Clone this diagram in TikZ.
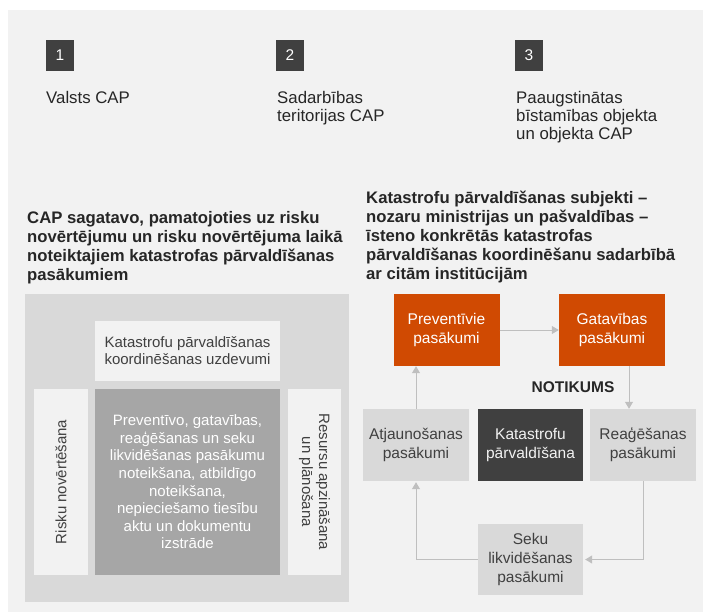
\documentclass[tikz,border=0pt]{standalone}
\usepackage{fontspec}
\setmainfont{Liberation Sans}
\usetikzlibrary{arrows.meta}

\definecolor{panelgrey}{HTML}{F2F2F2}
\definecolor{midgrey}{HTML}{D9D9D9}
\definecolor{boxgrey}{HTML}{A6A6A6}
\definecolor{darkgrey}{HTML}{404040}
\definecolor{inkgrey}{HTML}{262626}
\definecolor{pwcorange}{HTML}{D04A02}
\definecolor{arrowgrey}{HTML}{BFBFBF}

\begin{document}
\begin{tikzpicture}[x=1pt, y=-1pt, >={Triangle[width=8pt,length=7pt]},
    numbox/.style={fill=darkgrey, text=white, minimum width=28pt, minimum height=31pt, inner sep=0pt, font=\fontsize{15.5}{17}\selectfont},
    levellabel/.style={anchor=north west, align=left, inner sep=0pt, text=inkgrey, font=\fontsize{16.8}{18}\selectfont},
    heading/.style={anchor=north west, align=left, inner sep=0pt, text=inkgrey, font=\fontsize{16.7}{19}\selectfont\bfseries},
    cellbox/.style={fill=panelgrey, text=darkgrey, align=center, inner sep=0pt, font=\fontsize{15}{17}\selectfont},
    stagebox/.style={fill=midgrey, text=darkgrey, align=center, inner sep=0pt, minimum width=106pt, minimum height=72pt, font=\fontsize{15.5}{19}\selectfont},
    flow/.style={->, draw=arrowgrey, line width=1pt}
  ]

    \useasboundingbox (0,0) rectangle (703,612);

    % Background panel
    \fill[panelgrey] (8,10) rectangle (703,612);

    % Plan levels
    \foreach \i/\x in {1/60, 2/290, 3/529} {
        \node[numbox] (num-\i) at (\x, 55.5) {\i};
    }
    \node[levellabel] (level-1) at (46, 91) {Valsts CAP};
    \node[levellabel] (level-2) at (277, 91) {Sadarbības\\teritorijas CAP};
    \node[levellabel] (level-3) at (516, 91) {Paaugstinātas\\bīstamības objekta\\un objekta CAP};

    % Headings
    \node[heading] (head-left) at (27, 211) {CAP sagatavo, pamatojoties uz risku\\novērtējumu un risku novērtējuma laikā\\noteiktajiem katastrofas pārvaldīšanas\\pasākumiem};
    \node[heading] (head-right) at (366, 191) {Katastrofu pārvaldīšanas subjekti –\\nozaru ministrijas un pašvaldības –\\īsteno konkrētās katastrofas\\pārvaldīšanas koordinēšanu sadarbībā\\ar citām institūcijām};

    % Plan content
    \fill[midgrey] (25,294) rectangle (349,602);
    \node[cellbox, minimum width=185pt, minimum height=60pt] (tasks) at (187.5, 351) {Katastrofu pārvaldīšanas\\koordinēšanas uzdevumi};
    \node[cellbox, rotate=90, minimum width=186pt, minimum height=54pt] (risk) at (61, 482) {Risku novērtēšana};
    \node[cellbox, fill=boxgrey, text=white, minimum width=185pt, minimum height=186pt, font=\fontsize{15}{17.6}\selectfont] (measures) at (187.5, 482) {Preventīvo, gatavības,\\reaģēšanas un seku\\likvidēšanas pasākumu\\noteikšana, atbildīgo\\noteikšana,\\nepieciešamo tiesību\\aktu un dokumentu\\izstrāde};
    \node[cellbox, rotate=-90, minimum width=186pt, minimum height=53pt] (resources) at (314.5, 482) {Resursu apzināšana\\un plānošana};

    % Management cycle
    \node[stagebox, fill=pwcorange, text=white] (prevent) at (446.5, 330) {Preventīvie\\pasākumi};
    \node[stagebox, fill=pwcorange, text=white] (prepare) at (612, 330) {Gatavības\\pasākumi};
    \node[stagebox] (recover) at (416, 445) {Atjaunošanas\\pasākumi};
    \node[stagebox, fill=darkgrey, text=panelgrey, minimum width=105pt] (core) at (530.5, 445) {Katastrofu\\pārvaldīšana};
    \node[stagebox] (respond) at (643, 445) {Reaģēšanas\\pasākumi};
    \node[stagebox, minimum width=105pt, minimum height=71pt] (mitigate) at (530.5, 559.5) {Seku\\likvidēšanas\\pasākumi};
    \node[font=\fontsize{15.5}{18}\selectfont\bfseries, text=inkgrey] (event) at (573, 387) {NOTIKUMS};

    % Cycle arrows
    \draw[flow] (prevent) -- (prepare);
    \draw[flow] ([xshift=17pt]prepare.south) -- ([xshift=-14pt]respond.north);
    \draw[flow, shorten >=2pt] (respond.south) |- (mitigate.east);
    \draw[flow, shorten >=1pt] (mitigate.west) -| (recover.south);
    \draw[flow] (recover.north) -- (recover.north |- prevent.south);

\end{tikzpicture}
\end{document}
